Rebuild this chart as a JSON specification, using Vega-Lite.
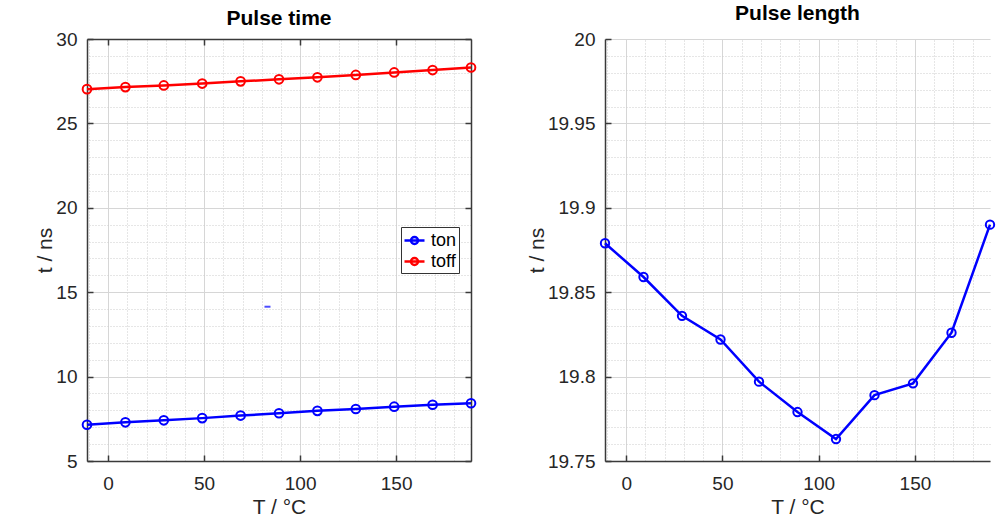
{
  "$schema": "https://vega.github.io/schema/vega-lite/v6.json",
  "padding": {"left": 34, "top": 3, "right": 5, "bottom": 0},
  "config": {
    "font": "Liberation Sans",
    "view": {"stroke": null},
    "axis": {
      "labelFont": "Liberation Sans",
      "titleFont": "Liberation Sans",
      "labelFontSize": 19,
      "titleFontSize": 21,
      "titleFontWeight": "normal",
      "labelColor": "#262626",
      "titleColor": "#262626"
    },
    "title": {"font": "Liberation Sans", "fontSize": 21, "fontWeight": "bold", "color": "#000000"}
  },
  "datasets": {
    "times": [
      {"T": -11, "series": "ton", "t": 7.15}, {"T": 9, "series": "ton", "t": 7.29}, {"T": 29, "series": "ton", "t": 7.41},
      {"T": 49, "series": "ton", "t": 7.54}, {"T": 69, "series": "ton", "t": 7.69}, {"T": 89, "series": "ton", "t": 7.83},
      {"T": 109, "series": "ton", "t": 7.97}, {"T": 129, "series": "ton", "t": 8.08}, {"T": 149, "series": "ton", "t": 8.22},
      {"T": 169, "series": "ton", "t": 8.33}, {"T": 189, "series": "ton", "t": 8.42},
      {"T": -11, "series": "toff", "t": 27.03}, {"T": 9, "series": "toff", "t": 27.15}, {"T": 29, "series": "toff", "t": 27.25},
      {"T": 49, "series": "toff", "t": 27.36}, {"T": 69, "series": "toff", "t": 27.49}, {"T": 89, "series": "toff", "t": 27.61},
      {"T": 109, "series": "toff", "t": 27.73}, {"T": 129, "series": "toff", "t": 27.87}, {"T": 149, "series": "toff", "t": 28.02},
      {"T": 169, "series": "toff", "t": 28.16}, {"T": 189, "series": "toff", "t": 28.31}
    ],
    "stray": [{"T": 83, "t": 14.14}],
    "length": [
      {"T": -11, "len": 19.879}, {"T": 9, "len": 19.859}, {"T": 29, "len": 19.836}, {"T": 49, "len": 19.822},
      {"T": 69, "len": 19.797}, {"T": 89, "len": 19.779}, {"T": 109, "len": 19.763}, {"T": 129, "len": 19.789},
      {"T": 149, "len": 19.796}, {"T": 169, "len": 19.826}, {"T": 189, "len": 19.890}
    ]
  },
  "spacing": 134,
  "bounds": "flush",
  "hconcat": [
    {
      "title": {"text": "Pulse time", "offset": 1},
      "width": 384,
      "height": 422,
      "data": {"name": "times"},
      "resolve": {"axis": {"x": "independent", "y": "independent"}},
      "layer": [
        {
          "mark": {"type": "point", "opacity": 0},
          "encoding": {
            "x": {"field": "T", "type": "quantitative", "scale": {"domain": [-11, 189], "nice": false, "zero": false},
              "axis": {"orient": "top", "values": [-10, 10, 20, 30, 40, 60, 70, 80, 90, 110, 120, 130, 140, 160, 170, 180],
                "grid": true, "gridColor": "#cccccc", "gridDash": [1, 2], "gridWidth": 1, "ticks": false, "labels": false, "domain": false, "title": null}},
            "y": {"field": "t", "type": "quantitative", "scale": {"domain": [5, 30], "nice": false, "zero": false},
              "axis": {"orient": "right", "values": [6, 7, 8, 9, 11, 12, 13, 14, 16, 17, 18, 19, 21, 22, 23, 24, 26, 27, 28, 29],
                "grid": true, "gridColor": "#cccccc", "gridDash": [1, 2], "gridWidth": 1, "ticks": false, "labels": false, "domain": false, "title": null}}
          }
        },
        {
          "mark": {"type": "point", "opacity": 0},
          "encoding": {
            "x": {"field": "T", "type": "quantitative",
              "axis": {"orient": "top", "values": [0, 50, 100, 150], "grid": false, "ticks": true, "tickSize": -6, "tickColor": "#3a3a3a", "tickWidth": 1.5,
                "labels": false, "domain": true, "domainColor": "#3a3a3a", "domainWidth": 1.5, "title": null}},
            "y": {"field": "t", "type": "quantitative",
              "axis": {"orient": "right", "values": [5, 10, 15, 20, 25, 30], "grid": false, "ticks": true, "tickSize": -6, "tickColor": "#3a3a3a", "tickWidth": 1.5,
                "labels": false, "domain": true, "domainColor": "#3a3a3a", "domainWidth": 1.5, "title": null}}
          }
        },
        {
          "mark": {"type": "line", "strokeWidth": 2.5},
          "encoding": {
            "x": {"field": "T", "type": "quantitative",
              "axis": {"orient": "bottom", "values": [0, 50, 100, 150], "grid": true, "gridColor": "#d6d6d6", "gridWidth": 1,
                "ticks": true, "tickSize": -6, "tickColor": "#3a3a3a", "tickWidth": 1.5, "labelPadding": 19,
                "domain": true, "domainColor": "#3a3a3a", "domainWidth": 1.5, "title": "T / °C", "titlePadding": 3}},
            "y": {"field": "t", "type": "quantitative",
              "axis": {"orient": "left", "values": [5, 10, 15, 20, 25, 30], "grid": true, "gridColor": "#d6d6d6", "gridWidth": 1,
                "ticks": true, "tickSize": -6, "tickColor": "#3a3a3a", "tickWidth": 1.5, "labelPadding": 16,
                "domain": true, "domainColor": "#3a3a3a", "domainWidth": 1.5, "title": "t / ns", "titlePadding": 0}},
            "color": {"field": "series", "type": "nominal",
              "scale": {"domain": ["ton", "toff"], "range": ["#0000ff", "#ff0000"]},
              "legend": {"orient": "none", "legendX": 314, "legendY": 188, "title": null,
                "symbolType": "M-1,0H1M-0.35,0A0.35,0.35 0 1,1 0.35,0A0.35,0.35 0 1,1 -0.35,0",
                "symbolSize": 400, "symbolStrokeWidth": 2.5, "symbolFillColor": "white",
                "labelFontSize": 18, "labelColor": "#000000", "labelFont": "Liberation Sans",
                "strokeColor": "#333333", "fillColor": "white", "padding": 2, "rowPadding": 0, "labelOffset": 5}}
          }
        },
        {
          "mark": {"type": "point", "filled": false, "size": 75, "strokeWidth": 2, "opacity": 1},
          "encoding": {
            "x": {"field": "T", "type": "quantitative", "axis": null},
            "y": {"field": "t", "type": "quantitative", "axis": null},
            "color": {"field": "series", "type": "nominal"}
          }
        },
        {
          "data": {"name": "stray"},
          "mark": {"type": "tick", "orient": "horizontal", "size": 6, "thickness": 2, "color": "#0000ff"},
          "encoding": {
            "x": {"field": "T", "type": "quantitative", "axis": null},
            "y": {"field": "t", "type": "quantitative", "axis": null}
          }
        }
      ]
    },
    {
      "title": {"text": "Pulse length", "offset": 6},
      "width": 385,
      "height": 422,
      "data": {"name": "length"},
      "resolve": {"axis": {"x": "independent", "y": "independent"}},
      "layer": [
        {
          "mark": {"type": "point", "opacity": 0},
          "encoding": {
            "x": {"field": "T", "type": "quantitative", "scale": {"domain": [-11, 189], "nice": false, "zero": false},
              "axis": {"orient": "top", "values": [-10, 10, 20, 30, 40, 60, 70, 80, 90, 110, 120, 130, 140, 160, 170, 180],
                "grid": true, "gridColor": "#cccccc", "gridDash": [1, 2], "gridWidth": 1, "ticks": false, "labels": false, "domain": false, "title": null}},
            "y": {"field": "len", "type": "quantitative", "scale": {"domain": [19.75, 20], "nice": false, "zero": false},
              "axis": {"orient": "right", "values": [19.76, 19.77, 19.78, 19.79, 19.81, 19.82, 19.83, 19.84, 19.86, 19.87, 19.88, 19.89, 19.91, 19.92, 19.93, 19.94, 19.96, 19.97, 19.98, 19.99],
                "grid": true, "gridColor": "#cccccc", "gridDash": [1, 2], "gridWidth": 1, "ticks": false, "labels": false, "domain": false, "title": null}}
          }
        },
        {
          "mark": {"type": "line", "strokeWidth": 2.5, "color": "#0000ff"},
          "encoding": {
            "x": {"field": "T", "type": "quantitative",
              "axis": {"orient": "bottom", "values": [0, 50, 100, 150], "grid": true, "gridColor": "#d6d6d6", "gridWidth": 1,
                "ticks": true, "tickSize": -6, "tickColor": "#3a3a3a", "tickWidth": 1.5, "labelPadding": 19,
                "domain": true, "domainColor": "#3a3a3a", "domainWidth": 1.5, "title": "T / °C", "titlePadding": 3}},
            "y": {"field": "len", "type": "quantitative",
              "axis": {"orient": "left", "values": [19.75, 19.8, 19.85, 19.9, 19.95, 20], "format": "~f", "grid": true, "gridColor": "#d6d6d6", "gridWidth": 1,
                "ticks": true, "tickSize": -6, "tickColor": "#3a3a3a", "tickWidth": 1.5, "labelPadding": 16,
                "domain": true, "domainColor": "#3a3a3a", "domainWidth": 1.5, "title": "t / ns", "titlePadding": 0}}
          }
        },
        {
          "mark": {"type": "point", "filled": false, "size": 70, "strokeWidth": 2, "color": "#0000ff", "opacity": 1},
          "encoding": {
            "x": {"field": "T", "type": "quantitative", "axis": null},
            "y": {"field": "len", "type": "quantitative", "axis": null}
          }
        }
      ]
    }
  ]
}
